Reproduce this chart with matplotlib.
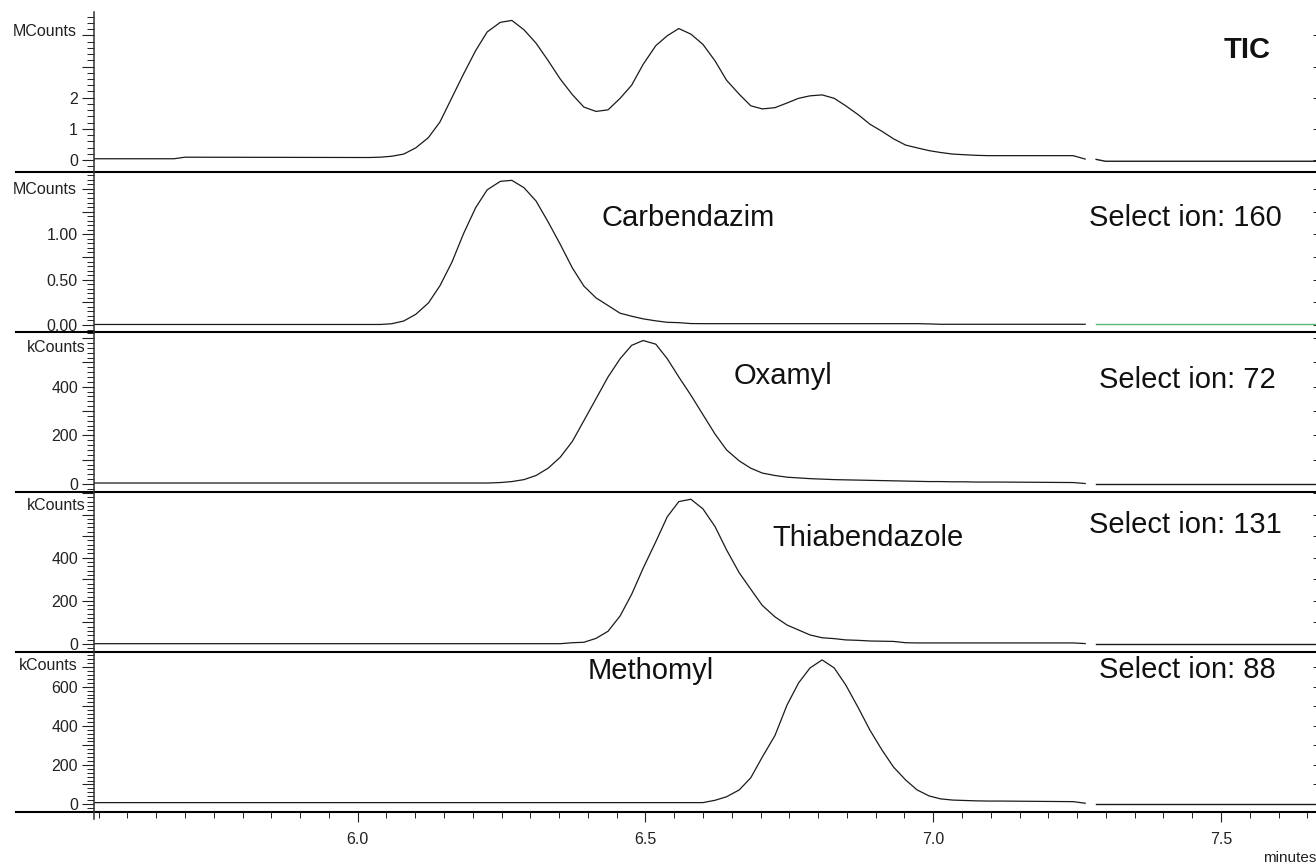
import matplotlib.pyplot as plt
from matplotlib.lines import Line2D
from matplotlib.ticker import MultipleLocator, FuncFormatter

plt.rcParams['font.family'] = ['Liberation Sans', 'DejaVu Sans']

# common scan times (minutes) over the peak region
scan_min = [6.019, 6.039, 6.059, 6.080, 6.101, 6.123, 6.143, 6.164, 6.184, 6.205,
            6.225, 6.248, 6.268, 6.289, 6.310, 6.331, 6.352, 6.373, 6.393, 6.414,
            6.435, 6.456, 6.476, 6.496, 6.518, 6.538, 6.558, 6.579, 6.600, 6.621,
            6.641, 6.663, 6.683, 6.703, 6.725, 6.746, 6.766, 6.786, 6.807, 6.828,
            6.848, 6.870, 6.890, 6.911, 6.931, 6.952, 6.972, 6.993, 7.013, 7.034,
            7.054, 7.075, 7.095, 7.116]
lead_min = [5.542, 5.681, 5.700]
tail_min = [7.243, 7.264]
post_min = [7.283, 7.299, 7.665]

# TIC, MCounts
tic = [0.08, 0.09, 0.12, 0.19, 0.39, 0.72, 1.22, 2.01, 2.76, 3.51,
       4.11, 4.42, 4.48, 4.18, 3.75, 3.19, 2.60, 2.10, 1.70, 1.56,
       1.61, 1.98, 2.40, 3.07, 3.67, 3.99, 4.22, 4.04, 3.71, 3.18,
       2.56, 2.11, 1.74, 1.64, 1.68, 1.83, 1.98, 2.06, 2.09, 1.98,
       1.74, 1.45, 1.15, 0.92, 0.68, 0.48, 0.39, 0.30, 0.24, 0.19,
       0.17, 0.15, 0.14, 0.14]
tic_lead = [0.04, 0.04, 0.09]
tic_tail = [0.14, 0.03]
tic_post = [0.02, -0.04, -0.04]

# Carbendazim (ion 160), MCounts
carbendazim = [0.006, 0.006, 0.014, 0.044, 0.118, 0.243, 0.433, 0.695, 1.007, 1.293,
               1.490, 1.584, 1.595, 1.514, 1.367, 1.136, 0.890, 0.630, 0.430, 0.300,
               0.215, 0.130, 0.097, 0.068, 0.046, 0.030, 0.026, 0.016, 0.015, 0.015,
               0.015, 0.015, 0.015, 0.015, 0.015, 0.015, 0.015, 0.015, 0.015, 0.015,
               0.015, 0.015, 0.015, 0.015, 0.015, 0.015, 0.015, 0.012, 0.008, 0.008,
               0.008, 0.008, 0.008, 0.008]
carbendazim_lead = [0.006, 0.006, 0.006]
carbendazim_tail = [0.008, 0.008]
carbendazim_post = [0.008, 0.008, 0.008]

# Oxamyl (ion 72), kCounts
oxamyl = [4, 4, 4, 4, 4, 4, 4, 4, 4, 4,
          4, 6, 10, 18, 35, 65, 110, 175, 260, 350,
          440, 515, 570, 590, 575, 515, 440, 365, 285, 205,
          140, 95, 65, 45, 35, 28, 25, 22, 20, 18,
          17, 16, 15, 14, 13, 12, 11, 10, 10, 9,
          9, 8, 8, 8]
oxamyl_lead = [4, 4, 4]
oxamyl_tail = [6, 2]
oxamyl_post = [0, 0, 0]

# Thiabendazole (ion 131), kCounts
thiabendazole = [1.5, 1.5, 1.5, 1.5, 1.5, 1.5, 1.5, 1.5, 1.5, 1.5,
                 1.5, 1.5, 1.5, 1.5, 1.5, 1.5, 1.5, 6, 8, 26,
                 59, 130, 230, 351, 474, 590, 660, 671, 626, 544,
                 436, 330, 254, 179, 126, 88, 65, 42, 29, 25,
                 19, 17, 14, 13, 12, 6, 5, 5, 5, 5,
                 5, 5, 5, 5]
thiabendazole_lead = [1.5, 1.5, 1.5]
thiabendazole_tail = [5, 2]
thiabendazole_post = [0, 0, 0]

# Methomyl (ion 88), kCounts
methomyl = [7, 7, 7, 7, 7, 7, 7, 7, 7, 7,
            7, 7, 7, 7, 7, 7, 7, 7, 7, 7,
            7, 7, 7, 7, 7, 7, 7, 7, 7, 19,
            37, 72, 134, 240, 350, 506, 619, 696, 737, 696,
            609, 491, 378, 276, 189, 123, 72, 41, 26, 20,
            18, 16, 15, 15]
methomyl_lead = [7, 7, 7]
methomyl_tail = [12, 4]
methomyl_post = [-1.5, -1.5, -1.5]

W, H = 1316, 864


def fx(px):
    return px / W


def fy(py):
    return 1 - py / H


panels = [
    # lead, main, tail, post, ylim, major, minor, labels, unit, unit_y, unit_x, post colour
    (tic_lead, tic, tic_tail, tic_post, (-0.385, 4.751), 1, 0.2,
     {0: '0', 1: '1', 2: '2'}, 'MCounts', 31, 77, '#1a1a1a'),
    (carbendazim_lead, carbendazim, carbendazim_tail, carbendazim_post, (-0.077, 1.687), 0.25, 0.05,
     {0: '0.00', 0.5: '0.50', 1: '1.00'}, 'MCounts', 189, 77, '#5cb878'),
    (oxamyl_lead, oxamyl, oxamyl_tail, oxamyl_post, (-32.9, 625), 100, 20,
     {0: '0', 200: '200', 400: '400'}, 'kCounts', 347, 86, '#1a1a1a'),
    (thiabendazole_lead, thiabendazole, thiabendazole_tail, thiabendazole_post, (-37, 704.5), 100, 20,
     {0: '0', 200: '200', 400: '400'}, 'kCounts', 506, 86, '#1a1a1a'),
    (methomyl_lead, methomyl, methomyl_tail, methomyl_post, (-41, 777.5), 100, 20,
     {0: '0', 200: '200', 400: '400', 600: '600'}, 'kCounts', 666, 78, '#1a1a1a'),
]

fig = plt.figure(figsize=(W / 100, H / 100), dpi=100)

for k, (lead, main, tail, post, ylim, major, minor, labels, unit, unit_y, unit_x, post_col) in enumerate(panels):
    top = 12 + 160 * k
    ax = fig.add_axes([fx(94), fy(top + 160), 1 - fx(94), 160 / H])
    ax.plot(lead_min + scan_min + tail_min, lead + main + tail, color='#1a1a1a', lw=0.9)
    ax.plot(post_min, post, color=post_col, lw=1.0)
    ax.set_xlim(5.542, 7.665)
    ax.set_ylim(*ylim)
    for s in ax.spines.values():
        s.set_visible(False)

    ax.yaxis.set_major_locator(MultipleLocator(major))
    ax.yaxis.set_minor_locator(MultipleLocator(minor))
    ax.yaxis.set_major_formatter(FuncFormatter(lambda v, pos, lb=labels: lb.get(round(v, 2), '')))
    ax.tick_params(axis='y', which='major', direction='out', length=8.6, width=0.8,
                   pad=3, labelsize=11.5, colors='#222222')
    ax.tick_params(axis='y', which='minor', direction='out', length=5, width=0.7, colors='#222222')

    right = ax.secondary_yaxis('right')
    right.yaxis.set_major_locator(MultipleLocator(major))
    right.tick_params(direction='in', length=2.5, width=0.7, labelright=False, colors='#222222')
    right.spines['right'].set_visible(False)

    fig.text(fx(unit_x), fy(unit_y), unit, ha='right', va='center', fontsize=11.5, color='#222222')

    if k < 4:
        ax.tick_params(axis='x', which='both', bottom=False, labelbottom=False)
    else:
        ax.xaxis.set_major_locator(MultipleLocator(0.5))
        ax.xaxis.set_minor_locator(MultipleLocator(0.05))
        ax.xaxis.set_major_formatter(FuncFormatter(lambda v, pos: f'{v:.1f}'))
        ax.tick_params(axis='x', which='major', direction='out', length=7.2, width=0.8,
                       pad=7, labelsize=11.5, colors='#222222')
        ax.tick_params(axis='x', which='minor', direction='out', length=4.3, width=0.7,
                       colors='#222222')

    # separator / baseline running past the y axis
    fig.add_artist(Line2D([fx(16), 1], [fy(top + 160)] * 2, color='black', lw=1.5))

# the y axis line through all panels
fig.add_artist(Line2D([fx(94)] * 2, [fy(12), fy(819)], color='#333333', lw=1.1))

annotations = [
    ('TIC', 1247, 50, 'bold'),
    ('Carbendazim', 688, 218, 'normal'),
    ('Select ion: 160', 1185, 218, 'normal'),
    ('Oxamyl', 783, 376, 'normal'),
    ('Select ion: 72', 1187, 380, 'normal'),
    ('Thiabendazole', 868, 538, 'normal'),
    ('Select ion: 131', 1185, 525, 'normal'),
    ('Methomyl', 651, 671, 'normal'),
    ('Select ion: 88', 1187, 670, 'normal'),
]
for txt, px, py, weight in annotations:
    fig.text(fx(px), fy(py), txt, ha='center', va='center', fontsize=21,
             fontweight=weight, color='#111111')

fig.text(fx(1290), fy(858), 'minutes', ha='center', va='center', fontsize=11, color='#222222')

fig.savefig('out.png', dpi=100)
